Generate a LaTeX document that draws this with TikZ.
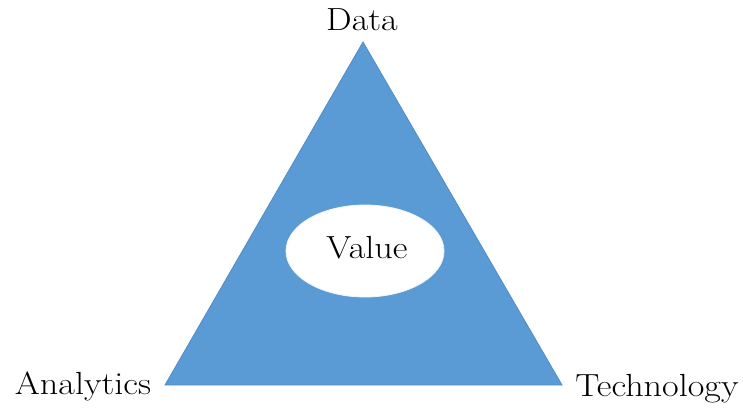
\documentclass[tikz,border=0pt]{standalone}
\usetikzlibrary{shapes.geometric}
\definecolor{triblue}{HTML}{5B9BD5}
\definecolor{triedge}{HTML}{4E8CC6}
\begin{document}
\begin{tikzpicture}[x=0.75pt,y=-0.75pt,
  lbl/.style={font=\fontsize{24}{28}\selectfont,anchor=base,inner sep=0pt,xscale=1.13},
  valellipse/.style={ellipse,fill=white,draw=white!90!triblue,line width=0.6pt,minimum width=118.5pt,minimum height=69pt,inner sep=0pt}]
\useasboundingbox (0,0) rectangle (743,408);
\coordinate (apex) at (363,42);
\coordinate (bl) at (165,385);
\coordinate (br) at (562,385);
\fill[triblue] (apex) -- (bl) -- (br) -- cycle;
\draw[triedge,line width=0.6pt,line join=miter] (apex) -- (bl) -- (br) -- cycle;
\node[valellipse] (value) at (365,251) {};
\node[lbl] (valtxt) at (367,258) {Value};
\node[lbl] (data) at (362,30) {Data};
\node[lbl] (analytics) at (83,394) {Analytics};
\node[lbl] (tech) at (657,396) {Technology};
\end{tikzpicture}
\end{document}
